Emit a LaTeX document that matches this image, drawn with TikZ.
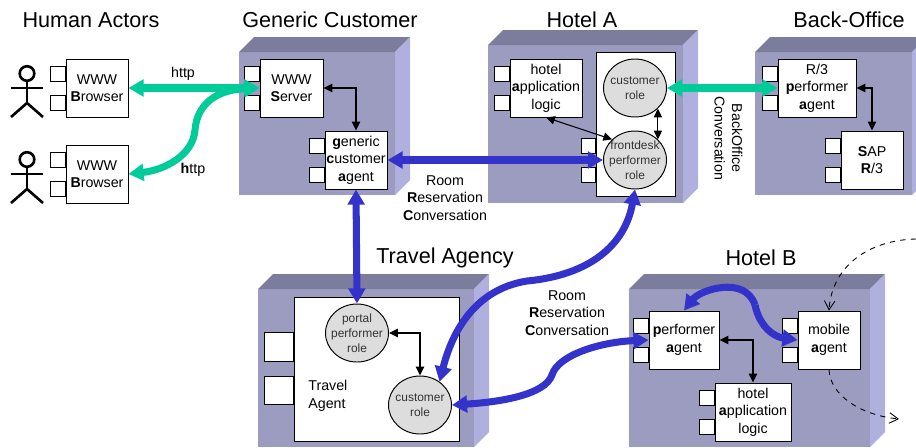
\documentclass[tikz,border=0pt]{standalone}
\usepackage{fontspec}
\setmainfont{Liberation Sans}
\usetikzlibrary{arrows.meta,shapes.geometric}

\definecolor{cubefront}{HTML}{9C9CC0}
\definecolor{cubetop}{HTML}{7C7C9C}
\definecolor{cubeside}{HTML}{B0B0DE}
\definecolor{convgreen}{HTML}{00CC99}
\definecolor{convblue}{HTML}{3333CC}
\definecolor{rolegray}{HTML}{DDDDDD}

\tikzset{
    boxsize/.style 2 args={minimum width=#1*0.02cm,minimum height=#2*0.02cm},
    title/.style={font=\fontsize{12.3}{14}\selectfont},
    label/.style={font=\fontsize{8.1}{10}\selectfont,align=center,inner sep=0pt},
    compbox/.style={label,draw=black,line width=0.55pt,fill=white,execute at begin node={\rule{0pt}{7.6pt}}},
    portbox/.style={draw=black,line width=0.55pt,fill=white,inner sep=0pt},
    rolecircle/.style={ellipse,draw=black,line width=0.55pt,fill=rolegray,inner xsep=-2.5pt,inner ysep=-4pt,boxsize={63}{58},
        font=\fontsize{6.8}{8.5}\selectfont,text=black!80,align=center},
    conv/.style={line width=4pt,{Triangle[length=8.6pt,width=9.4pt]}-{Triangle[length=8.6pt,width=9.4pt]}},
    oneconv/.style={line width=4pt,-{Triangle[length=8.6pt,width=9.4pt]}},
    link/.style={line width=0.6pt,{Triangle[length=5pt,width=4.7pt]}-{Triangle[length=5pt,width=4.7pt]}},
    move/.style={line width=0.5pt,dashed,-{Straight Barb[length=5pt,width=6pt]}}
}

\begin{document}
\begin{tikzpicture}[x=0.02cm,y=-0.02cm]
    \useasboundingbox (0,0) rectangle (916,447);
    \clip (0,0) rectangle (916,447);

    \foreach \x/\y/\w/\h in {239/52/156/143,488/45/195/158,755/52/157/143,258/289/216/158,629/289/241/158}{
        \fill [cubefront] (\x,\y) rectangle (\x+\w,\y+\h);
        \fill [cubetop] (\x,\y) -- (\x+15,\y-15) -- (\x+\w+15,\y-15) -- (\x+\w,\y) -- cycle;
        \fill [cubeside] (\x+\w,\y) -- (\x+\w+15,\y-15) -- (\x+\w+15,\y+\h-15) -- (\x+\w,\y+\h) -- cycle;
    }

    \foreach \y in {0,86}{
        \draw [line width=1.5pt] (27,73.5+\y) circle (7.3);
        \draw [line width=1.5pt] (27,81+\y) -- (27,103+\y);
        \draw [line width=1.5pt] (11,88+\y) -- (43,88+\y);
        \draw [line width=1.5pt] (11,117+\y) -- (27,103+\y) -- (43,117+\y);
    }

    \node [title] (humantitle) at (91,20) {Human Actors};
    \node [title] (customertitle) at (330,20) {Generic Customer};
    \node [title] (hotelatitle) at (582,20) {Hotel A};
    \node [title] (backofficetitle) at (849,20) {Back-Office};
    \node [title] (traveltitle) at (445,258) {Travel Agency};
    \node [title] (hotelbtitle) at (761,258) {Hotel B};

    \node [compbox,boxsize={62}{58}] (browsera) at (97,88) {WWW\\\textbf{B}rowser};
    \node [compbox,boxsize={62}{58}] (browserb) at (97,174) {WWW\\\textbf{B}rowser};
    \node [compbox,boxsize={63}{58}] (wwwserver) at (291.5,88) {WWW\\\textbf{S}erver};
    \node [compbox,boxsize={62}{58}] (customeragent) at (356,160) {\textbf{g}eneric\\\textbf{c}ustomer\\\textbf{a}gent};
    \node [compbox,boxsize={72}{58}] (hotelalogic) at (546,88) {hotel\\\textbf{a}pplication\\logic};
    \node [compbox,boxsize={78}{58}] (r3agent) at (817,88) {R/3\\\textbf{p}erformer\\\textbf{a}gent};
    \node [compbox,boxsize={62}{58}] (sapbox) at (872,160) {\textbf{S}AP\\\textbf{R}/3};
    \node [compbox,boxsize={70}{58}] (performerb) at (684,340) {\textbf{p}erformer\\\textbf{a}gent};
    \node [compbox,boxsize={62}{58}] (mobileagent) at (829,340) {mobile\\\textbf{a}gent};
    \node [compbox,boxsize={76}{58}] (hotelblogic) at (753,412) {hotel\\\textbf{a}pplication\\logic};

    \foreach \n in {browsera,browserb,wwwserver,customeragent,hotelalogic,r3agent,sapbox,performerb,mobileagent,hotelblogic}{
        \node [portbox,boxsize={14.5}{15},anchor=north east] (\n porta) at ([yshift=-7*0.02cm]\n.north west) {};
        \node [portbox,boxsize={14.5}{15},anchor=north east] (\n portb) at ([yshift=-36*0.02cm]\n.north west) {};
    }

    \node [compbox,boxsize={79}{144}] (frontpanel) at (635.5,124) {};
    \node [portbox,boxsize={14.5}{15},anchor=east] (frontporta) at (596,145.5) {};
    \node [portbox,boxsize={14.5}{15},anchor=east] (frontportb) at (596,174.5) {};
    \node [rolecircle] (customerrolea) at (635,88) {customer\\role};
    \node [rolecircle] (frontdesk) at (635,160) {frontdesk\\performer\\role};

    \node [compbox,boxsize={165}{144}] (travelpanel) at (376.5,369) {};
    \node [portbox,boxsize={29}{28.5},anchor=east] (travelporta) at (294,347) {};
    \node [portbox,boxsize={29}{28.5},anchor=east] (travelportb) at (294,390.5) {};
    \node [label,anchor=west,align=left] (travelname) at (308,396) {Travel\\Agent};
    \node [rolecircle] (portalrole) at (357,333) {portal\\performer\\role};
    \node [rolecircle] (customerroleb) at (420,405) {customer\\role};

    \draw [conv,convgreen] (browsera.east) -- (wwwserver.west);
    \coordinate (greenbend) at (195,130);
    \draw [conv,convgreen] (browserb.east) .. controls (165,170) and (193,155) .. (greenbend) .. controls (197,105) and (215,90) .. (wwwserver.west);
    \draw [conv,convgreen] (customerrolea.east) -- (r3agent.west);

    \draw [conv,convblue] (customeragent.east) -- (frontdesk.west);
    \draw [conv,convblue] (customeragent.south) -- (portalrole.north);
    \coordinate (bluebenda) at (527,281);
    \draw [conv,convblue] (frontdesk.south) .. controls (625,245) and (590,275) .. (bluebenda) .. controls (470,290) and (450,340) .. (customerroleb.50);
    \coordinate (bluebendb) at (552,375);
    \draw [conv,convblue] (customerroleb.east) .. controls (500,402) and (545,395) .. (bluebendb) .. controls (558,355) and (600,342) .. (performerb.west);
    \coordinate (bluebendc) at (755,305);
    \draw [oneconv,convblue] (bluebendc) .. controls (745,275) and (700,290) .. (performerb.north);
    \draw [oneconv,convblue] (bluebendc) .. controls (760,328) and (775,337) .. (mobileagent.west);

    \draw [link] (wwwserver.east) -| (customeragent.north);
    \draw [link] (hotelalogic.south) -- (frontdesk.138);
    \draw [link] (customerrolea.-42) -- (frontdesk.42);
    \draw [link] (r3agent.east) -| (sapbox.north);
    \draw [link] (portalrole.east) -| (customerroleb.north);
    \draw [link] (performerb.east) -| (hotelblogic.north);

    \coordinate (mobilein) at (916,239);
    \coordinate (mobileout) at (899,419);
    \draw [move] (mobilein) .. controls (870,240) and (832,265) .. (mobileagent.north);
    \draw [move] (mobileagent.south) .. controls (830,395) and (860,415) .. (mobileout);

    \node [label] (httpa) at (183,74) {http};
    \node [label] (httpb) at (193,170) {\textbf{h}ttp};
    \node [label] (rooma) at (445,198) {Room\\\textbf{R}eservation\\\textbf{C}onversation};
    \node [label] (roomb) at (567,313) {Room\\\textbf{R}eservation\\\textbf{C}onversation};
    \node [label,rotate=-90] (backconv) at (728.5,138) {BackOffice\\Conversation};
\end{tikzpicture}
\end{document}
